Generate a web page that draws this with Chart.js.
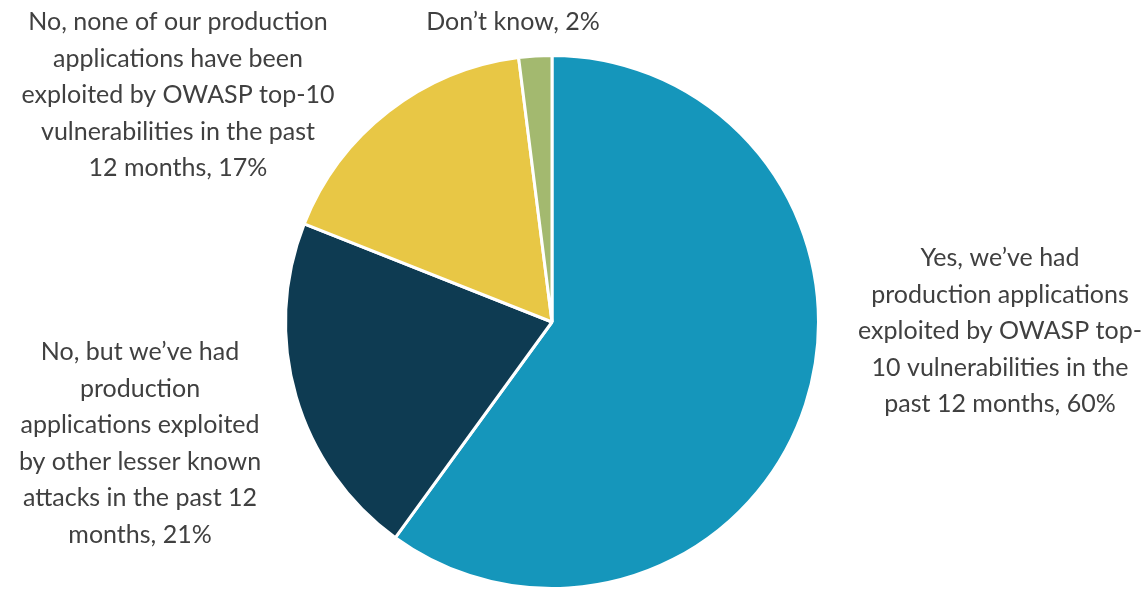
<!DOCTYPE html>
<html>
<head>
<meta charset="utf-8">
<script src="https://cdn.jsdelivr.net/npm/chart.js@4/dist/chart.umd.min.js"></script>
<style>
	html, body { margin: 0; padding: 0; background: #fff; }
	#wrap { width: 1141px; height: 590px; position: relative; }
</style>
</head>
<body>
<div id="wrap"><canvas id="pie"></canvas></div>
<script>
'use strict';

const categories = [
	'Yes, we\u2019ve had production applications exploited by OWASP top-10 vulnerabilities in the past 12 months',
	'No, but we\u2019ve had production applications exploited by other lesser known attacks in the past 12 months',
	'No, none of our production applications have been exploited by OWASP top-10 vulnerabilities in the past 12 months',
	'Don\u2019t know'
];
const values = [60, 21, 17, 2];
const colors = ['#1596bb', '#0e3b52', '#e8c745', '#a3b96f'];

// wrapped label lines as in the original
const labelLines = [
	['Yes, we\u2019ve had', 'production applications', 'exploited by OWASP top-', '10 vulnerabilities in the', 'past 12 months, 60%'],
	['No, but we\u2019ve had', 'production', 'applications exploited', 'by other lesser known', 'attacks in the past 12', 'months, 21%'],
	['No, none of our production', 'applications have been', 'exploited by OWASP top-10', 'vulnerabilities in the past', '12 months, 17%'],
	['Don\u2019t know, 2%']
];
// label anchor (center of first line)
const labelPos = [
	{x: 1000, y: 258},
	{x: 140, y: 352},
	{x: 178, y: 22},
	{x: 513, y: 22}
];

const outsideLabels = {
	id: 'outsideLabels',
	afterDraw(chart) {
		let ctx = chart.ctx;
		ctx.save();
		ctx.font = '25px "Source Sans Pro", Lato, sans-serif';
		ctx.fillStyle = '#404040';
		ctx.textAlign = 'center';
		ctx.textBaseline = 'middle';
		for (let i = 0; i < labelLines.length; i++) {
			let lines = labelLines[i];
			for (let j = 0; j < lines.length; j++) {
				ctx.fillText(lines[j], labelPos[i].x, labelPos[i].y + j * 36.6);
			}
		}
		ctx.restore();
	}
};

let ctx = document.getElementById('pie');
let chart = new Chart(ctx, {
	type: 'pie',
	data: {
		labels: categories,
		datasets: [{
			data: values,
			backgroundColor: colors,
			borderColor: '#ffffff',
			borderWidth: 3
		}]
	},
	options: {
		responsive: true,
		maintainAspectRatio: false,
		animation: false,
		layout: {padding: {top: 54, bottom: -5, left: 282, right: 319}},
		plugins: {
			legend: {display: false},
			tooltip: {enabled: false}
		}
	},
	plugins: [outsideLabels]
});
</script>
</body>
</html>
